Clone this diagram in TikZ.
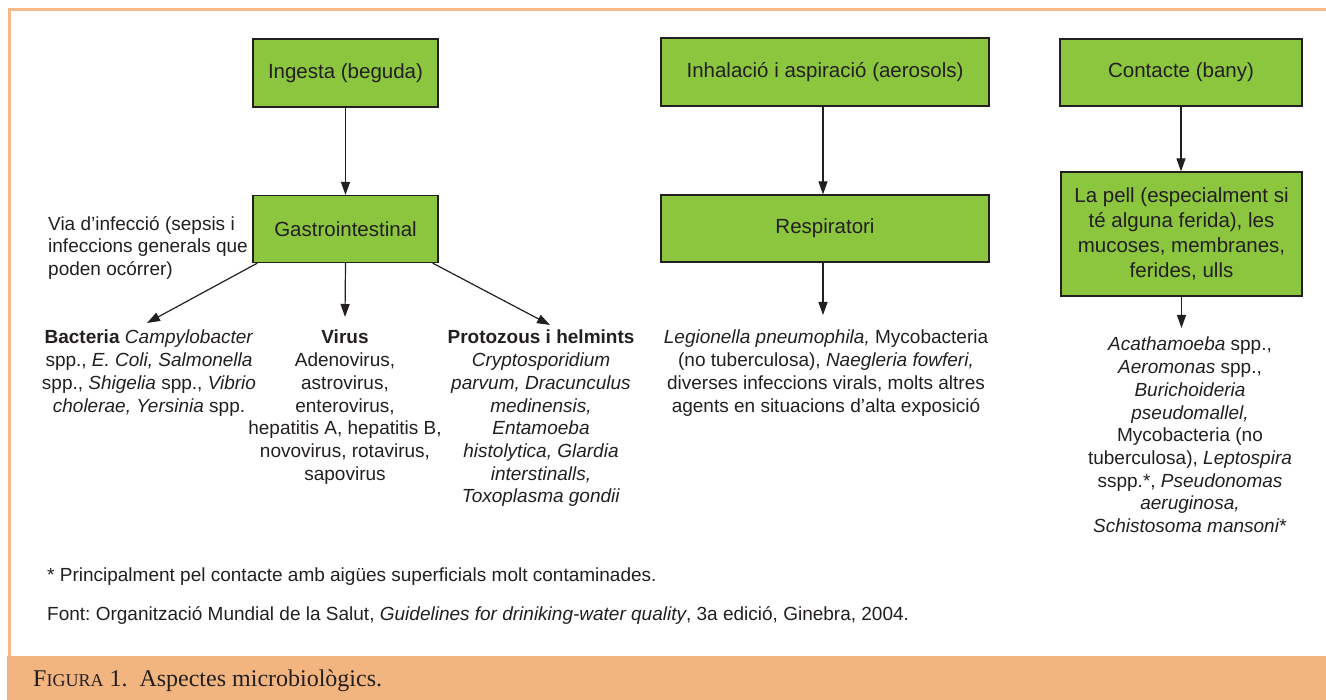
\documentclass[tikz,border=0pt]{standalone}
\usepackage{fontspec}
\setmainfont{Liberation Sans}
\newfontfamily\capfont{Liberation Serif}
\usetikzlibrary{arrows.meta}
\definecolor{boxgreen}{HTML}{8CC63F}
\definecolor{barorange}{HTML}{F2B57F}
\definecolor{frameorange}{HTML}{F6BA8A}
\definecolor{ink}{HTML}{231F20}
\frenchspacing
\begin{document}
\begin{tikzpicture}[x=1pt,y=-1pt,
  gbox/.style={draw=ink, line width=1.2pt, fill=boxgreen, inner sep=0pt, align=center,
    text=ink, font=\fontsize{20.5}{25}\selectfont},
  body/.style={inner sep=0pt, align=center, text=ink, font=\fontsize{19}{22.7}\selectfont},
  arr/.style={draw=ink, line width=1.2pt, -{Triangle[length=13pt,width=9pt]}}]
\useasboundingbox (0,0) rectangle (1326,700);
% frame and caption bar
\fill[barorange] (7,656) rectangle (1326,700);
\draw[frameorange, line width=3pt] (9,656) -- (9,10) -- (1326,10);
\node[anchor=base west, inner sep=0pt, text=ink, font=\capfont\fontsize{24}{24}\selectfont] (cap) at (33,686)
  {F{\fontsize{18}{18}\selectfont IGURA} 1.\hspace{0.25em} Aspectes microbiològics.};
% boxes
\node[gbox, minimum width=185pt, minimum height=68pt] (ing) at (345.5,73) {Ingesta (beguda)};
\node[gbox, minimum width=185pt, minimum height=67pt] (gas) at (345.5,229) {Gastrointestinal};
\node[gbox, minimum width=328pt, minimum height=68pt] (inh) at (825,72) {Inhalació i aspiració (aerosols)};
\node[gbox, minimum width=328pt, minimum height=67pt] (res) at (825,228.5) {Respiratori};
\node[gbox, minimum width=242pt, minimum height=67pt] (con) at (1181,72.5) {Contacte (bany)};
\node[gbox, minimum width=241pt, minimum height=124pt] (pel) at (1181.5,234)
  {La pell (especialment si\\té alguna ferida), les\\mucoses, membranes,\\ferides, ulls};
% side note
\node[body, align=left, anchor=north west] (via) at (48,216)
  {Via d’infecció (sepsis i\\infeccions generals que\\poden ocórrer)};
% text blocks
\node[body, anchor=north] (bac) at (149,330)
  {\textbf{Bacteria} \textit{Campylobacter}\\spp., \textit{E. Coli, Salmonella}\\spp., \textit{Shigelia} spp., \textit{Vibrio}\\\textit{cholerae, Yersinia} spp.};
\node[body, anchor=north] (vir) at (345,330)
  {\textbf{Virus}\\Adenovirus,\\astrovirus,\\enterovirus,\\hepatitis A, hepatitis B,\\novovirus, rotavirus,\\sapovirus};
\node[body, anchor=north] (pro) at (541,330)
  {\textbf{Protozous i helmints}\\\textit{Cryptosporidium}\\\textit{parvum, Dracunculus}\\\textit{medinensis,}\\\textit{Entamoeba}\\\textit{histolytica, Glardia}\\\textit{interstinalls,}\\\textit{Toxoplasma gondii}};
\node[body, anchor=north] (leg) at (826,330)
  {\textit{Legionella pneumophila,} Mycobacteria\\(no tuberculosa), \textit{Naegleria fowferi,}\\diverses infeccions virals, molts altres\\agents en situacions d’alta exposició};
\node[body, anchor=north] (ct) at (1190,337)
  {\textit{Acathamoeba} spp.,\\\textit{Aeromonas} spp.,\\\textit{Burichoideria}\\\textit{pseudomallel,}\\Mycobacteria (no\\tuberculosa), \textit{Leptospira}\\sspp.*, \textit{Pseudonomas}\\\textit{aeruginosa,}\\\textit{Schistosoma mansoni}*};
% footnotes
\node[body, anchor=west] (fn1) at (47,577) {* Principalment pel contacte amb aigües superficials molt contaminades.};
\node[body, anchor=west] (fn2) at (47,615) {Font: Organització Mundial de la Salut, \textit{Guidelines for driniking-water quality}, 3a edició, Ginebra, 2004.};
% connectors
\draw[arr] (ing) -- (gas);
\draw[arr] ([xshift=5pt]gas.south west) -- ([xshift=-2pt,yshift=7pt]bac.north);
\draw[arr] (gas.south) -- ([yshift=13pt]vir.north);
\draw[arr] ([xshift=-6pt]gas.south east) -- ([xshift=9pt,yshift=5pt]pro.north);
\draw[arr] ([xshift=-2pt]inh.south) -- ([xshift=-2pt]res.north);
\draw[arr] ([xshift=-2pt]res.south) -- ([xshift=-2pt,yshift=15pt]res.south |- leg.north);
\draw[arr] (con.south) -- (con.south |- pel.north);
\draw[arr] (pel.south) -- ([yshift=9pt]pel.south |- ct.north);
\end{tikzpicture}
\end{document}
